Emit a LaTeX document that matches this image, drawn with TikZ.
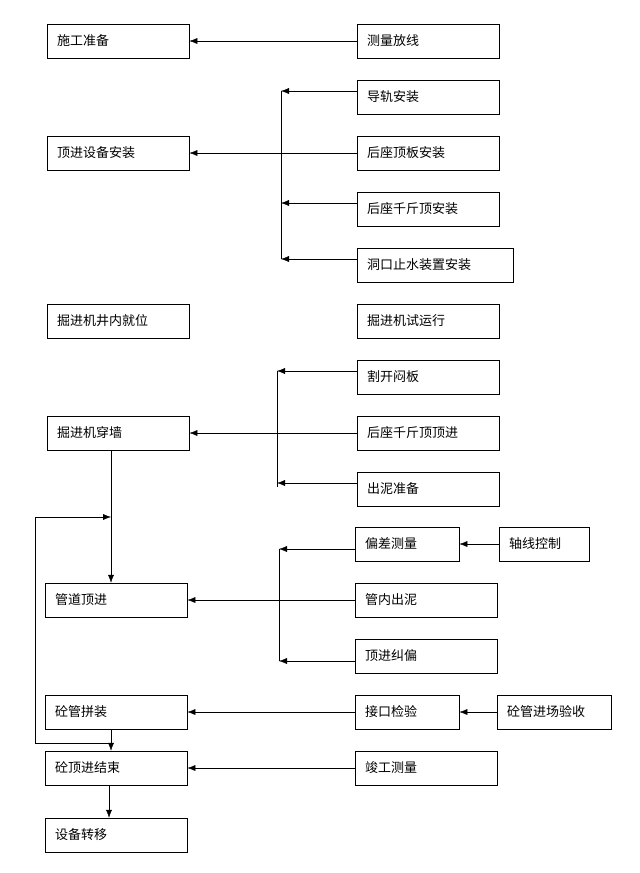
\documentclass[tikz,border=0pt]{standalone}
\usepackage{fontspec}
\setmainfont{Noto Sans CJK SC}
\usetikzlibrary{positioning, arrows.meta, calc}
\tikzset{>={Latex[length=8pt, width=6pt]}}
\begin{document}
\begin{tikzpicture}[x=1pt, y=-1pt]
\tikzstyle{box}=[draw=black, rectangle, minimum height=34pt, inner xsep=10pt, anchor=west, font=\fontsize{13}{15}\selectfont]
\useasboundingbox (0,0) rectangle (640,873);

% left column
\node [box, text width=122pt] (prep) at (47, 41) {施工准备};
\node [box, text width=122pt] (setup) at (47, 153) {顶进设备安装};
\node [box, text width=122pt] (place) at (47, 321) {掘进机井内就位};
\node [box, text width=122pt] (wall) at (47, 433) {掘进机穿墙};
\node [box, text width=122pt] (push) at (45, 600) {管道顶进};
\node [box, text width=122pt] (join) at (45, 712) {砼管拼装};
\node [box, text width=122pt] (done) at (45, 768) {砼顶进结束};
\node [box, text width=122pt] (move) at (45, 835) {设备转移};

% right column
\node [box, text width=122pt] (survey) at (357, 41) {测量放线};
\node [box, text width=122pt] (rail) at (357, 97) {导轨安装};
\node [box, text width=122pt] (plate) at (357, 153) {后座顶板安装};
\node [box, text width=122pt] (jack) at (357, 209) {后座千斤顶安装};
\node [box, text width=136pt] (seal) at (357, 265) {洞口止水装置安装};
\node [box, text width=122pt] (trial) at (357, 321) {掘进机试运行};
\node [box, text width=122pt] (cut) at (357, 377) {割开闷板};
\node [box, text width=122pt] (jackpush) at (357, 433) {后座千斤顶顶进};
\node [box, text width=122pt] (mud) at (357, 489) {出泥准备};
\node [box, text width=84pt] (dev) at (355, 544) {偏差测量};
\node [box, text width=122pt] (mudin) at (355, 600) {管内出泥};
\node [box, text width=122pt] (corr) at (355, 656) {顶进纠偏};
\node [box, text width=70pt] (axis) at (499, 544) {轴线控制};
\node [box, text width=84pt] (check) at (355, 712) {接口检验};
\node [box, text width=94pt] (accept) at (497, 712) {砼管进场验收};
\node [box, text width=122pt] (final) at (355, 768) {竣工测量};

% bus lines
\coordinate (b1-top) at (281, 91);
\coordinate (b1-bot) at (281, 259);
\coordinate (b2-top) at (277, 371);
\coordinate (b2-bot) at (277, 487);
\coordinate (b3-top) at (279, 549);
\coordinate (b3-bot) at (279, 661);
\draw (b1-top) -- (b1-bot);
\draw (b2-top) -- (b2-bot);
\draw (b3-top) -- (b3-bot);

\draw [->] (survey) -- (prep);
\draw [->] (plate) -- (setup);
\draw [->] (jackpush) -- (wall);
\draw [->] (mudin) -- (push);
\draw [->] (check) -- (join);
\draw [->] (final) -- (done);
\draw [->] (axis) -- (dev);
\draw [->] (accept) -- (check);
\foreach \n/\b/\d in {rail/b1/-6, jack/b1/-6, seal/b1/-6, cut/b2/-6, mud/b2/-6, dev/b3/5, corr/b3/5}
	\draw [->] ($(\n.west)+(0,\d)$) -- ($(\n.west -| \b-top)+(0,\d)$);

% loop
\coordinate (loop-a) at (35, 743);
\coordinate (loop-b) at (35, 517);
\coordinate (loop-c) at (111, 517);
\coordinate (loop-d) at (111, 743);
\draw [->] (wall.south -| loop-c) -- (push.north -| loop-c);
\draw [->] (loop-d) -- (loop-a) -- (loop-b) -- (loop-c);
\draw [->] (join.south -| loop-c) -- (done.north -| loop-c);
\draw [->] (done.south -| 109,0) -- (move.north -| 109,0);

\end{tikzpicture}
\end{document}
